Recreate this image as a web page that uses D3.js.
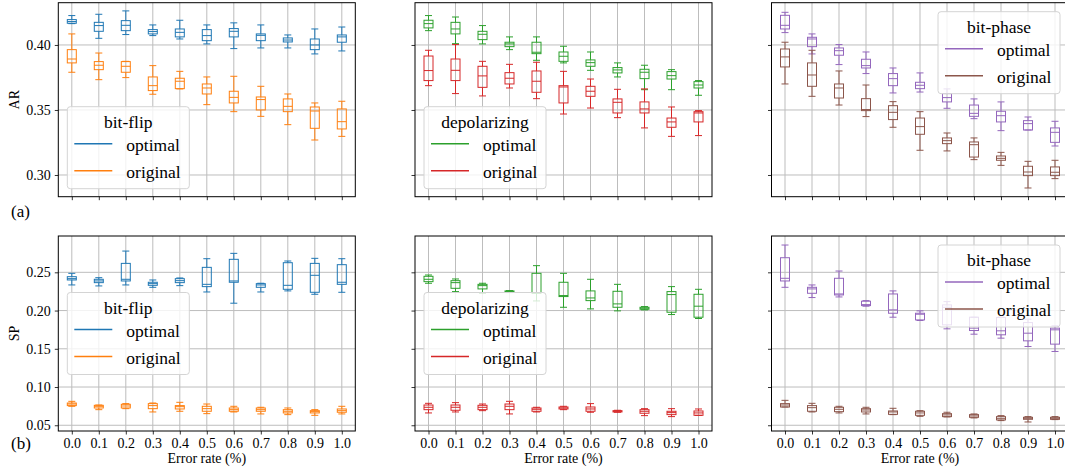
<!DOCTYPE html>
<html>
<head>
<meta charset="utf-8">
<script src="https://cdn.jsdelivr.net/npm/d3@7"></script>
<style>
  body { margin: 0; background: #fff; }
  svg text { font-family: "Liberation Serif", "DejaVu Serif", serif; }
</style>
</head>
<body>
<div id="chart"></div>
<script>
// error rates (x categories)
const errorRates = ['0.0', '0.1', '0.2', '0.3', '0.4', '0.5', '0.6', '0.7', '0.8', '0.9', '1.0'];
const arTicks = [0.30, 0.35, 0.40];
const spTicks = [0.05, 0.10, 0.15, 0.20, 0.25];

// box stats per error rate: [low whisker, q1, median, q3, high whisker]
// ---- AR ----
const arBitFlipOptimal = [
    [0.4164, 0.4167, 0.4180, 0.4195, 0.4226], [0.4051, 0.4105, 0.4149, 0.4174, 0.4236],
    [0.4080, 0.4110, 0.4151, 0.4187, 0.4262], [0.4072, 0.4085, 0.4103, 0.4118, 0.4154],
    [0.4046, 0.4062, 0.4097, 0.4123, 0.4190], [0.4008, 0.4033, 0.4072, 0.4118, 0.4154],
    [0.3972, 0.4062, 0.4105, 0.4126, 0.4170], [0.3977, 0.4033, 0.4074, 0.4085, 0.4154],
    [0.3977, 0.4023, 0.4038, 0.4054, 0.4077], [0.3931, 0.3964, 0.4000, 0.4046, 0.4123],
    [0.3954, 0.4021, 0.4062, 0.4077, 0.4138]
];
const arBitFlipOriginal = [
    [0.3790, 0.3862, 0.3892, 0.3964, 0.4085], [0.3733, 0.3810, 0.3844, 0.3872, 0.3938],
    [0.3749, 0.3790, 0.3836, 0.3872, 0.3874], [0.3621, 0.3649, 0.3687, 0.3754, 0.3841],
    [0.3662, 0.3664, 0.3721, 0.3744, 0.3797], [0.3541, 0.3623, 0.3669, 0.3700, 0.3754],
    [0.3487, 0.3554, 0.3597, 0.3644, 0.3759], [0.3451, 0.3500, 0.3580, 0.3600, 0.3682],
    [0.3387, 0.3487, 0.3528, 0.3585, 0.3623], [0.3269, 0.3359, 0.3492, 0.3523, 0.3554],
    [0.3297, 0.3354, 0.3410, 0.3508, 0.3567]
];
const arDepolOptimal = [
    [0.4110, 0.4131, 0.4164, 0.4190, 0.4226], [0.4010, 0.4085, 0.4123, 0.4174, 0.4215],
    [0.4008, 0.4041, 0.4082, 0.4105, 0.4149], [0.3964, 0.3987, 0.4008, 0.4021, 0.4062],
    [0.3882, 0.3933, 0.3944, 0.4021, 0.4062], [0.3862, 0.3874, 0.3913, 0.3946, 0.3990],
    [0.3805, 0.3836, 0.3864, 0.3885, 0.3946], [0.3754, 0.3785, 0.3808, 0.3826, 0.3862],
    [0.3656, 0.3741, 0.3790, 0.3813, 0.3844], [0.3656, 0.3738, 0.3764, 0.3795, 0.3810],
    [0.3613, 0.3669, 0.3692, 0.3718, 0.3726]
];
const arDepolOriginal = [
    [0.3687, 0.3726, 0.3803, 0.3915, 0.3959], [0.3626, 0.3726, 0.3805, 0.3892, 0.4003],
    [0.3608, 0.3674, 0.3762, 0.3836, 0.3874], [0.3669, 0.3700, 0.3744, 0.3787, 0.3851],
    [0.3587, 0.3636, 0.3721, 0.3800, 0.3867], [0.3469, 0.3554, 0.3677, 0.3687, 0.3797],
    [0.3515, 0.3605, 0.3644, 0.3682, 0.3738], [0.3441, 0.3477, 0.3559, 0.3585, 0.3659],
    [0.3362, 0.3477, 0.3508, 0.3562, 0.3662], [0.3297, 0.3367, 0.3408, 0.3438, 0.3523],
    [0.3303, 0.3408, 0.3477, 0.3487, 0.3495]
];
const arBitPhaseOptimal = [
    [0.4095, 0.4123, 0.4151, 0.4228, 0.4251], [0.3931, 0.3987, 0.4046, 0.4059, 0.4085],
    [0.3849, 0.3921, 0.3956, 0.3977, 0.4003], [0.3780, 0.3823, 0.3841, 0.3890, 0.3946],
    [0.3631, 0.3687, 0.3741, 0.3780, 0.3823], [0.3638, 0.3664, 0.3690, 0.3713, 0.3785],
    [0.3513, 0.3562, 0.3595, 0.3626, 0.3662], [0.3433, 0.3451, 0.3474, 0.3538, 0.3585],
    [0.3341, 0.3408, 0.3456, 0.3490, 0.3562], [0.3346, 0.3346, 0.3395, 0.3418, 0.3446],
    [0.3223, 0.3251, 0.3328, 0.3362, 0.3413]
];
const arBitPhaseOriginal = [
    [0.3700, 0.3831, 0.3908, 0.3969, 0.4021], [0.3605, 0.3682, 0.3769, 0.3862, 0.3959],
    [0.3538, 0.3592, 0.3669, 0.3700, 0.3800], [0.3449, 0.3495, 0.3503, 0.3587, 0.3692],
    [0.3367, 0.3426, 0.3482, 0.3533, 0.3564], [0.3190, 0.3313, 0.3372, 0.3438, 0.3487],
    [0.3185, 0.3241, 0.3264, 0.3285, 0.3323], [0.3118, 0.3138, 0.3233, 0.3254, 0.3285],
    [0.3074, 0.3113, 0.3128, 0.3146, 0.3174], [0.2900, 0.2995, 0.3023, 0.3067, 0.3105],
    [0.2972, 0.2995, 0.3021, 0.3062, 0.3113]
];
// ---- SP ----
const spBitFlipOptimal = [
    [0.2335, 0.2400, 0.2417, 0.2443, 0.2487], [0.2322, 0.2365, 0.2387, 0.2409, 0.2430],
    [0.2335, 0.2387, 0.2409, 0.2617, 0.2778], [0.2304, 0.2330, 0.2352, 0.2370, 0.2400],
    [0.2326, 0.2365, 0.2391, 0.2417, 0.2426], [0.2243, 0.2313, 0.2343, 0.2565, 0.2678],
    [0.2096, 0.2370, 0.2387, 0.2670, 0.2748], [0.2243, 0.2304, 0.2335, 0.2352, 0.2357],
    [0.2257, 0.2278, 0.2330, 0.2626, 0.2648], [0.2213, 0.2239, 0.2461, 0.2617, 0.2683],
    [0.2239, 0.2343, 0.2370, 0.2600, 0.2678]
];
const spBitFlipOriginal = [
    [0.0748, 0.0757, 0.0778, 0.0791, 0.0813], [0.0704, 0.0726, 0.0748, 0.0761, 0.0765],
    [0.0717, 0.0726, 0.0752, 0.0774, 0.0783], [0.0674, 0.0717, 0.0757, 0.0783, 0.0791],
    [0.0683, 0.0713, 0.0743, 0.0757, 0.0800], [0.0652, 0.0683, 0.0717, 0.0748, 0.0778],
    [0.0674, 0.0683, 0.0704, 0.0726, 0.0748], [0.0648, 0.0683, 0.0704, 0.0726, 0.0735],
    [0.0639, 0.0661, 0.0683, 0.0704, 0.0726], [0.0630, 0.0661, 0.0678, 0.0691, 0.0704],
    [0.0648, 0.0670, 0.0691, 0.0713, 0.0748]
];
const spDepolOptimal = [
    [0.2357, 0.2378, 0.2409, 0.2448, 0.2465], [0.2248, 0.2291, 0.2365, 0.2391, 0.2413],
    [0.2226, 0.2283, 0.2326, 0.2343, 0.2357], [0.2235, 0.2239, 0.2248, 0.2257, 0.2261],
    [0.2126, 0.2226, 0.2230, 0.2487, 0.2587], [0.2043, 0.2183, 0.2196, 0.2370, 0.2487],
    [0.2022, 0.2130, 0.2165, 0.2257, 0.2409], [0.1996, 0.2043, 0.2087, 0.2252, 0.2343],
    [0.2009, 0.2017, 0.2030, 0.2043, 0.2052], [0.1948, 0.1978, 0.2209, 0.2248, 0.2313],
    [0.1896, 0.1913, 0.2057, 0.2213, 0.2278]
];
const spDepolOriginal = [
    [0.0661, 0.0704, 0.0735, 0.0765, 0.0787], [0.0674, 0.0696, 0.0735, 0.0765, 0.0796],
    [0.0691, 0.0704, 0.0735, 0.0761, 0.0778], [0.0648, 0.0704, 0.0748, 0.0778, 0.0813],
    [0.0674, 0.0683, 0.0709, 0.0726, 0.0735], [0.0704, 0.0713, 0.0726, 0.0739, 0.0748],
    [0.0670, 0.0683, 0.0713, 0.0739, 0.0783], [0.0670, 0.0674, 0.0683, 0.0691, 0.0696],
    [0.0626, 0.0657, 0.0683, 0.0704, 0.0717], [0.0613, 0.0639, 0.0665, 0.0683, 0.0717],
    [0.0630, 0.0630, 0.0661, 0.0687, 0.0713]
];
const spBitPhaseOptimal = [
    [0.2304, 0.2387, 0.2422, 0.2691, 0.2857], [0.2170, 0.2226, 0.2283, 0.2304, 0.2335],
    [0.2178, 0.2204, 0.2217, 0.2422, 0.2517], [0.2057, 0.2065, 0.2078, 0.2122, 0.2130],
    [0.1913, 0.1965, 0.2009, 0.2217, 0.2257], [0.1870, 0.1878, 0.1952, 0.1965, 0.1996],
    [0.1761, 0.1813, 0.2043, 0.2074, 0.2117], [0.1691, 0.1739, 0.1770, 0.1913, 0.1913],
    [0.1639, 0.1683, 0.1735, 0.1909, 0.1913], [0.1530, 0.1604, 0.1704, 0.1843, 0.1887],
    [0.1465, 0.1561, 0.1748, 0.1770, 0.1800]
];
const spBitPhaseOriginal = [
    [0.0739, 0.0739, 0.0765, 0.0783, 0.0826], [0.0674, 0.0683, 0.0730, 0.0757, 0.0787],
    [0.0661, 0.0678, 0.0709, 0.0735, 0.0748], [0.0648, 0.0674, 0.0700, 0.0717, 0.0735],
    [0.0639, 0.0643, 0.0674, 0.0687, 0.0722], [0.0617, 0.0630, 0.0661, 0.0683, 0.0691],
    [0.0609, 0.0613, 0.0635, 0.0652, 0.0670], [0.0596, 0.0604, 0.0622, 0.0639, 0.0648],
    [0.0561, 0.0570, 0.0591, 0.0613, 0.0626], [0.0543, 0.0578, 0.0591, 0.0604, 0.0613],
    [0.0574, 0.0578, 0.0591, 0.0604, 0.0613]
];

const noiseNames = ['bit-flip', 'depolarizing', 'bit-phase'];
const seriesNames = ['optimal', 'original'];
const colors = [['#1f77b4', '#ff7f0e'], ['#2ca02c', '#d62728'], ['#9467bd', '#8c564b']];

const rows = [
    { label: 'AR', tag: '(a)', ticks: arTicks, domain: [0.2833, 0.4325], top: 2.7, height: 194,
      series: [[arBitFlipOptimal, arBitFlipOriginal], [arDepolOptimal, arDepolOriginal], [arBitPhaseOptimal, arBitPhaseOriginal]],
      legend: ['lowerleft', 'lowerleft', 'upperright'] },
    { label: 'SP', tag: '(b)', ticks: spTicks, domain: [0.0425, 0.2975], top: 236, height: 195,
      series: [[spBitFlipOptimal, spBitFlipOriginal], [spDepolOptimal, spDepolOriginal], [spBitPhaseOptimal, spBitPhaseOriginal]],
      legend: ['centerleft', 'centerleft', 'upperright'] }
];

const FONT = 'Liberation Serif';
const config = {
    width: 1065,
    height: 471,
    panelLefts: [58.3, 415, 771.5],
    panelWidth: 297,
    grid: '#bdbdbd',
    tickFont: 14,
    legendFont: 17.5
};

const svg = d3.select('#chart').append('svg')
    .attr('width', config.width)
    .attr('height', config.height)
    .attr('font-family', FONT);

const x = d3.scaleLinear().domain([0.5, 11.5]).range([0, config.panelWidth]);
const boxW = 9;
const capW = 7;

rows.forEach((row, ri) => {
    const y = d3.scaleLinear().domain(row.domain).range([row.height, 0]);

    config.panelLefts.forEach((left, ci) => {
        const g = svg.append('g').attr('transform', `translate(${left},${row.top})`);

        // grid
        g.append('g').selectAll('line.vg').data(errorRates).join('line')
            .attr('x1', (d, i) => x(i + 1)).attr('x2', (d, i) => x(i + 1))
            .attr('y1', 0).attr('y2', row.height)
            .attr('stroke', config.grid).attr('stroke-width', 1);
        g.append('g').selectAll('line.hg').data(row.ticks).join('line')
            .attr('x1', 0).attr('x2', config.panelWidth)
            .attr('y1', d => y(d)).attr('y2', d => y(d))
            .attr('stroke', config.grid).attr('stroke-width', 1);

        // boxes
        row.series[ci].forEach((stats, si) => {
            const col = colors[ci][si];
            const bg = g.append('g').attr('stroke', col).attr('fill', 'none').attr('stroke-width', 1);
            stats.forEach((s, i) => {
                const cx = x(i + 1);
                const [lo, q1, med, q3, hi] = s;
                bg.append('line').attr('x1', cx).attr('x2', cx).attr('y1', y(q3)).attr('y2', y(hi));
                bg.append('line').attr('x1', cx).attr('x2', cx).attr('y1', y(q1)).attr('y2', y(lo));
                bg.append('line').attr('x1', cx - capW / 2).attr('x2', cx + capW / 2).attr('y1', y(hi)).attr('y2', y(hi));
                bg.append('line').attr('x1', cx - capW / 2).attr('x2', cx + capW / 2).attr('y1', y(lo)).attr('y2', y(lo));
                bg.append('rect').attr('x', cx - boxW / 2).attr('width', boxW)
                    .attr('y', y(q3)).attr('height', Math.max(0.5, y(q1) - y(q3)));
                bg.append('line').attr('x1', cx - boxW / 2).attr('x2', cx + boxW / 2).attr('y1', y(med)).attr('y2', y(med));
            });
        });

        // axes
        const xAxis = d3.axisBottom(x).tickValues(d3.range(1, 12)).tickSize(3.5).tickPadding(4)
            .tickFormat((d, i) => ri === 1 ? errorRates[i] : '');
        const yAxis = d3.axisLeft(y).tickValues(row.ticks).tickSize(3.5).tickPadding(4)
            .tickFormat(d => ci === 0 ? d3.format('.2f')(d) : '');
        const xg = g.append('g').attr('transform', `translate(0,${row.height})`).call(xAxis);
        const yg = g.append('g').call(yAxis);
        [xg, yg].forEach(a => {
            a.attr('font-family', FONT).attr('font-size', config.tickFont);
            a.select('.domain').remove();
            a.selectAll('text').attr('fill', '#000');
            a.selectAll('line').attr('stroke', '#000').attr('stroke-width', 0.8);
        });

        // legend
        const lw = 122, lh = 82;
        let lx, ly;
        if (row.legend[ci] === 'upperright') { lx = config.panelWidth - lw - 8.5; ly = 9; }
        else if (row.legend[ci] === 'lowerleft') { lx = 9; ly = row.height - lh - 8; }
        else { lx = 9; ly = (row.height - lh) / 2; }
        const lg = g.append('g').attr('transform', `translate(${lx},${ly})`)
            .attr('font-family', FONT).attr('font-size', config.legendFont);
        lg.append('rect').attr('width', lw).attr('height', lh).attr('rx', 3)
            .attr('fill', '#fff').attr('fill-opacity', 0.8).attr('stroke', '#d4d4d4').attr('stroke-width', 1);
        lg.append('text').attr('x', lw / 2).attr('y', 21).attr('text-anchor', 'middle')
            .text(noiseNames[ci]);
        seriesNames.forEach((name, si) => {
            const yy = 37 + si * 27;
            lg.append('line').attr('x1', 7).attr('x2', 45).attr('y1', yy).attr('y2', yy)
                .attr('stroke', colors[ci][si]).attr('stroke-width', 1.5);
            lg.append('text').attr('x', 59).attr('y', yy + 7).text(name);
        });

        // frame
        g.append('rect').attr('width', config.panelWidth).attr('height', row.height)
            .attr('fill', 'none').attr('stroke', '#000').attr('stroke-width', 1);

        if (ri === 1) {
            g.append('text').attr('x', config.panelWidth / 2).attr('y', row.height + 32)
                .attr('text-anchor', 'middle').attr('font-size', 14).text('Error rate (%)');
        }
    });

    // row label
    svg.append('text')
        .attr('transform', `translate(19,${row.top + row.height / 2}) rotate(-90)`)
        .attr('text-anchor', 'middle').attr('font-size', 14).text(row.label);
    svg.append('text').attr('x', 11).attr('y', ri === 0 ? 217 : 449)
        .attr('font-size', 17).text(row.tag);
});
</script>
</body>
</html>
